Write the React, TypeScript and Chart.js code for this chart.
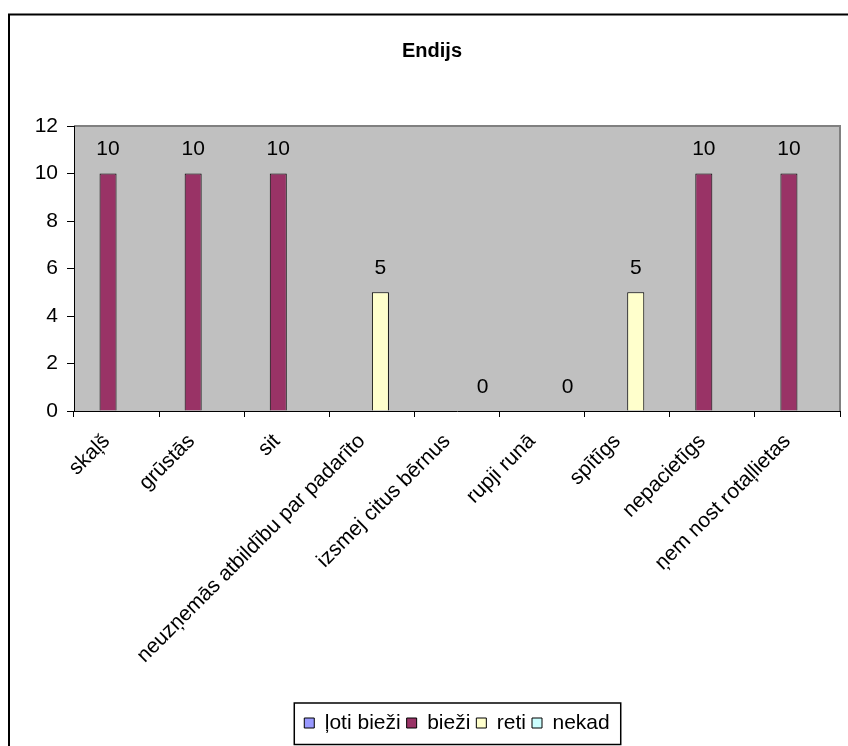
import React, { useEffect, useRef } from "react";
import { Chart, registerables } from "chart.js";

Chart.register(...registerables);

const FONT = "'Liberation Sans', Arial, sans-serif";

const categories = [
  "skaļš",
  "grūstās",
  "sit",
  "neuzņemās atbildību par padarīto",
  "izsmej citus bērnus",
  "rupji runā",
  "spītīgs",
  "nepacietīgs",
  "ņem nost rotaļlietas",
];
const seriesNames = ["ļoti bieži", "bieži", "reti", "nekad"];
const lotiBiezi: (number | null)[] = [null, null, null, null, null, null, null, null, null];
const biezi: (number | null)[] = [10, 10, 10, null, null, null, null, 10, 10];
const reti: (number | null)[] = [null, null, null, 5, null, null, 5, null, null];
const nekad: (number | null)[] = [null, null, null, null, 0, 0, null, null, null];
const seriesColors = ["#9999FF", "#993366", "#FFFFCC", "#CCFFFF"];
const yMin = 0;
const yMax = 12;
const yStep = 2;
const titleText = "Endijs";

const backgroundPlugin = {
  id: "bgFrame",
  beforeDraw(chart: any) {
    const { ctx, chartArea: a } = chart;
    ctx.save();
    ctx.fillStyle = "#ffffff";
    ctx.fillRect(0, 0, chart.width, chart.height);
    ctx.strokeStyle = "#000000";
    ctx.lineWidth = 2;
    ctx.strokeRect(9, 14.5, chart.width + 40, chart.height + 40);
    ctx.fillStyle = "#C0C0C0";
    ctx.fillRect(a.left, a.top, a.right - a.left, a.bottom - a.top);
    ctx.strokeStyle = "#808080";
    ctx.lineWidth = 2;
    ctx.beginPath();
    ctx.moveTo(a.left, a.top);
    ctx.lineTo(a.right, a.top);
    ctx.lineTo(a.right, a.bottom);
    ctx.stroke();
    ctx.restore();
  },
  afterDraw(chart: any) {
    const lg = chart.legend;
    if (!lg || !lg.legendHitBoxes || !lg.legendHitBoxes.length) return;
    const hb = lg.legendHitBoxes;
    const l = Math.min(...hb.map((h: any) => h.left)) - 10;
    const r = Math.max(...hb.map((h: any) => h.left + h.width)) + 11;
    const t = hb[0].top - 9.5;
    const b = hb[0].top + hb[0].height + 11;
    const ctx = chart.ctx;
    ctx.save();
    ctx.strokeStyle = "#000000";
    ctx.lineWidth = 1.5;
    ctx.strokeRect(l, t, r - l, b - t);
    ctx.restore();
  },
};

const valueLabelPlugin = {
  id: "valueLabels",
  afterDatasetsDraw(chart: any) {
    const ctx = chart.ctx;
    ctx.save();
    ctx.font = `21px ${FONT}`;
    ctx.fillStyle = "#000000";
    ctx.textAlign = "center";
    ctx.textBaseline = "middle";
    chart.data.datasets.forEach((ds: any, i: number) => {
      const meta = chart.getDatasetMeta(i);
      meta.data.forEach((el: any, j: number) => {
        const v = ds.data[j];
        if (v === null || v === undefined) return;
        ctx.fillText(String(v), el.x, el.y - 24);
      });
    });
    ctx.restore();
  },
};

export default function App() {
  const ref = useRef<HTMLCanvasElement | null>(null);

  useEffect(() => {
    if (!ref.current) return;
    const seriesData = [lotiBiezi, biezi, reti, nekad];
    const chart = new Chart(ref.current, {
      type: "bar",
      data: {
        labels: categories,
        datasets: seriesNames.map((name, i) => ({
          label: name,
          data: seriesData[i],
          backgroundColor: seriesColors[i],
          borderColor: "#000000",
          borderWidth: 1,
          categoryPercentage: 0.8,
          barPercentage: 1,
        })),
      },
      options: {
        responsive: false,
        animation: false,
        devicePixelRatio: 1,
        layout: { padding: { left: 24, right: 8, top: 0, bottom: 2.5 } },
        plugins: {
          title: {
            display: true,
            text: titleText,
            color: "#000000",
            font: { family: FONT, size: 20, weight: "bold" },
            padding: { top: 39.5, bottom: 62.5 },
          },
          legend: {
            display: true,
            position: "bottom",
            fullSize: false,
            labels: {
              color: "#000000",
              font: { family: FONT, size: 21 },
              boxWidth: 10,
              boxHeight: 10,
              padding: 6,
            },
          },
          tooltip: { enabled: false },
        },
        scales: {
          x: {
            grid: {
              drawOnChartArea: false,
              drawTicks: true,
              tickLength: 6,
              tickColor: "#000000",
              offset: true,
            },
            border: { display: true, color: "#000000", width: 1 },
            ticks: {
              color: "#000000",
              font: { family: FONT, size: 21 },
              maxRotation: 45,
              minRotation: 45,
              autoSkip: false,
              padding: 12,
              labelOffset: -10,
            },
            afterFit: (scale: any) => {
              scale.height = 295.5;
            },
          },
          y: {
            min: yMin,
            max: yMax,
            grid: {
              drawOnChartArea: false,
              drawTicks: true,
              tickLength: 7,
              tickColor: "#000000",
            },
            border: { display: true, color: "#000000", width: 1 },
            ticks: {
              stepSize: yStep,
              color: "#000000",
              font: { family: FONT, size: 21 },
              padding: 9,
            },
            afterFit: (scale: any) => {
              scale.width = 50;
            },
          },
        },
      },
      plugins: [backgroundPlugin, valueLabelPlugin],
    });
    return () => chart.destroy();
  }, []);

  return (
    <div style={{ position: "fixed", left: 0, top: 0, width: 848, height: 746 }}>
      <canvas ref={ref} width={848} height={746} style={{ display: "block" }} />
    </div>
  );
}
